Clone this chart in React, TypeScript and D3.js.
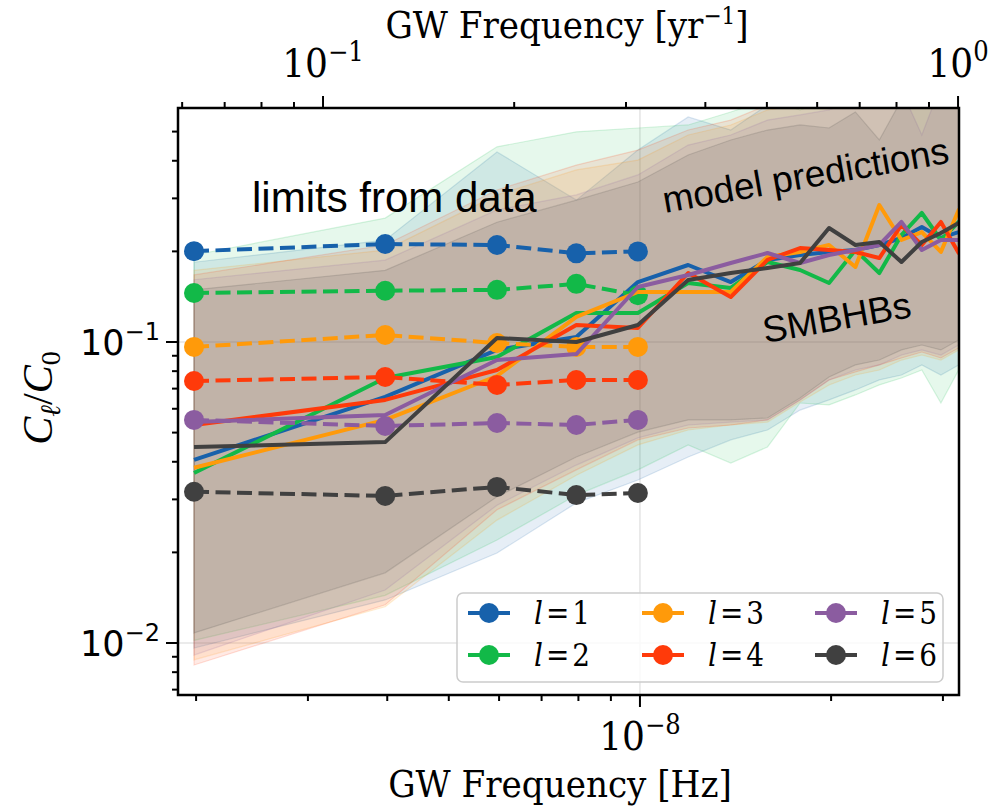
import React from "react";
import * as d3 from "d3";

// GW frequencies of the harmonics (Hz)
const freqs = [
  1.985e-9, 3.97e-9, 5.955e-9, 7.94e-9, 9.925e-9, 1.191e-8, 1.39e-8, 1.588e-8, 1.787e-8,
  1.985e-8, 2.184e-8, 2.382e-8, 2.581e-8, 2.779e-8, 2.978e-8, 3.176e-8, 3.375e-8,
];
const limitFreqs = [1.985e-9, 3.97e-9, 5.955e-9, 7.94e-9, 9.925e-9];

const ellLabels = ["1", "2", "3", "4", "5", "6"];
const colors = ["#1761ab", "#12b948", "#ff9a0a", "#ff3a0a", "#8b5ca0", "#404040"];

// limits from data (dashed)
const limitL1 = [0.2003, 0.2116, 0.21, 0.197, 0.2];
const limitL2 = [0.1455, 0.148, 0.149, 0.156, 0.143];
const limitL3 = [0.0963, 0.1055, 0.0992, 0.0963, 0.0963];
const limitL4 = [0.0742, 0.0765, 0.072, 0.0748, 0.0748];
const limitL5 = [0.0551, 0.0526, 0.0538, 0.053, 0.0551];
const limitL6 = [0.0318, 0.0308, 0.033, 0.031, 0.0315];

// model medians (solid)
const medianL1 = [0.0406, 0.0657, 0.0941, 0.1039, 0.1582, 0.1802, 0.1582, 0.1873, 0.1945, 0.1991, 0.2021, 0.21, 0.2216, 0.241, 0.2216, 0.2319, 0.2447];
const medianL2 = [0.0367, 0.0759, 0.0892, 0.1248, 0.1248, 0.157, 0.1512, 0.1844, 0.1734, 0.157, 0.2021, 0.1695, 0.2267, 0.2683, 0.2182, 0.2505, 0.2642];
const medianL3 = [0.0382, 0.0551, 0.0771, 0.1211, 0.1466, 0.1466, 0.1466, 0.1916, 0.1991, 0.21, 0.1775, 0.2851, 0.2182, 0.2319, 0.1991, 0.2746, 0.2965];
const medianL4 = [0.053, 0.0642, 0.0807, 0.1139, 0.1113, 0.1695, 0.1411, 0.1873, 0.2052, 0.2021, 0.1991, 0.1901, 0.2447, 0.21, 0.2505, 0.1975, 0.2267];
const medianL5 = [0.0542, 0.0572, 0.0871, 0.0912, 0.1523, 0.1669, 0.183, 0.1975, 0.183, 0.1945, 0.2021, 0.21, 0.2505, 0.2021, 0.2182, 0.2182, 0.2149];
const medianL6 = [0.0448, 0.0465, 0.1031, 0.1, 0.1139, 0.1607, 0.1695, 0.1761, 0.183, 0.2391, 0.21, 0.2149, 0.1844, 0.2149, 0.2302, 0.2485, 0.2642];

// model spread, upper edge
const upperL1 = [0.184, 0.218, 0.428, 0.296, 0.434, 0.559, 0.506, 0.613, 0.637, 0.662, 0.662, 0.687, 0.714, 0.714, 0.742, 0.742, 0.742];
const upperL2 = [0.1945, 0.258, 0.445, 0.499, 0.514, 0.526, 0.581, 0.637, 0.59, 0.637, 0.662, 0.662, 0.687, 0.714, 0.742, 0.742, 0.771];
const upperL3 = [0.173, 0.202, 0.308, 0.373, 0.402, 0.487, 0.526, 0.59, 0.613, 0.637, 0.662, 0.687, 0.714, 0.714, 0.742, 0.742, 0.771];
const upperL4 = [0.167, 0.21, 0.32, 0.387, 0.434, 0.506, 0.546, 0.613, 0.637, 0.662, 0.662, 0.687, 0.687, 0.714, 0.714, 0.742, 0.742];
const upperL5 = [0.161, 0.187, 0.2746, 0.308, 0.359, 0.451, 0.487, 0.546, 0.568, 0.59, 0.637, 0.662, 0.687, 0.487, 0.714, 0.714, 0.742];
const upperL6 = [0.149, 0.173, 0.25, 0.296, 0.34, 0.418, 0.469, 0.506, 0.526, 0.514, 0.581, 0.469, 0.637, 0.662, 0.687, 0.687, 0.714];

// model spread, lower edge
const lowerL1 = [0.00962, 0.0139, 0.0199, 0.0292, 0.0348, 0.0415, 0.0473, 0.051, 0.0594, 0.0642, 0.0693, 0.0748, 0.0777, 0.0839, 0.0777, 0.0839, 0.0871];
const lowerL2 = [0.0102, 0.0144, 0.022, 0.031, 0.0376, 0.0455, 0.0396, 0.0448, 0.0627, 0.0618, 0.0667, 0.072, 0.0759, 0.0807, 0.0627, 0.0807, 0.0858];
const lowerL3 = [0.00879, 0.0132, 0.0256, 0.0361, 0.0455, 0.051, 0.053, 0.0542, 0.0632, 0.072, 0.0777, 0.0807, 0.0871, 0.0905, 0.0871, 0.0941, 0.0977];
const lowerL4 = [0.00845, 0.0134, 0.0277, 0.0376, 0.0473, 0.0518, 0.053, 0.0551, 0.0642, 0.0748, 0.0795, 0.0839, 0.0885, 0.0926, 0.0885, 0.0955, 0.1];
const lowerL5 = [0.00912, 0.015, 0.0287, 0.039, 0.048, 0.053, 0.0542, 0.0551, 0.0642, 0.0748, 0.0807, 0.0839, 0.0905, 0.0941, 0.0905, 0.0977, 0.1015];
const lowerL6 = [0.0108, 0.0171, 0.0306, 0.0415, 0.0502, 0.0551, 0.0551, 0.0559, 0.0652, 0.0765, 0.0839, 0.0871, 0.0941, 0.0977, 0.0941, 0.1015, 0.1055];

const series = [
  { ell: ellLabels[0], color: colors[0], median: medianL1, upper: upperL1, lower: lowerL1, limit: limitL1 },
  { ell: ellLabels[1], color: colors[1], median: medianL2, upper: upperL2, lower: lowerL2, limit: limitL2 },
  { ell: ellLabels[2], color: colors[2], median: medianL3, upper: upperL3, lower: lowerL3, limit: limitL3 },
  { ell: ellLabels[3], color: colors[3], median: medianL4, upper: upperL4, lower: lowerL4, limit: limitL4 },
  { ell: ellLabels[4], color: colors[4], median: medianL5, upper: upperL5, lower: lowerL5, limit: limitL5 },
  { ell: ellLabels[5], color: colors[5], median: medianL6, upper: upperL6, lower: lowerL6, limit: limitL6 },
];

const HZ_PER_INV_YR = 3.169e-8;

const serif = "'DejaVu Serif Condensed', 'Liberation Serif', serif";
const sans = "'Liberation Sans', Arial, sans-serif";

const App = () => {
  const W = 1006;
  const H = 810;
  const left = 178;
  const right = 959;
  const top = 108;
  const bottom = 695;

  const x = d3.scaleLog().domain([1.873e-9, 3.18e-8]).range([left, right]);
  const xTop = d3
    .scaleLog()
    .domain([1.873e-9 / HZ_PER_INV_YR, 3.18e-8 / HZ_PER_INV_YR])
    .range([left, right]);
  const y = d3.scaleLog().domain([0.006718, 0.5989]).range([bottom, top]);

  const isMajor = (t) => Math.abs(Math.log10(t) - Math.round(Math.log10(t))) < 1e-6;

  const area = (s) =>
    d3
      .area()
      .x((_, i) => x(freqs[i]))
      .y0((_, i) => y(s.lower[i]))
      .y1((_, i) => y(s.upper[i]))(freqs);

  const medianLine = (s) =>
    d3
      .line()
      .x((_, i) => x(freqs[i]))
      .y((d) => y(d))(s.median);

  const limitLine = (s) =>
    d3
      .line()
      .x((_, i) => x(limitFreqs[i]))
      .y((d) => y(d))(s.limit);

  const exp = (t) => Math.round(Math.log10(t));
  const supLabel = (e) => (e < 0 ? "\u2212" + Math.abs(e) : String(e));

  // legend layout
  const legCols = [468, 642, 815];
  const legRows = [613, 655];

  return (
    <svg
      width={W}
      height={H}
      style={{ position: "absolute", left: 0, top: 0, background: "#fff" }}
    >
      <defs>
        <clipPath id="plotClip">
          <rect x={left} y={top} width={right - left} height={bottom - top} />
        </clipPath>
      </defs>

      {/* grid */}
      <g stroke="#e4e4e4" strokeWidth={1.5}>
        {x.ticks().filter(isMajor).map((t) => (
          <line key={"gx" + t} x1={x(t)} x2={x(t)} y1={top} y2={bottom} />
        ))}
        {y.ticks().filter(isMajor).map((t) => (
          <line key={"gy" + t} x1={left} x2={right} y1={y(t)} y2={y(t)} />
        ))}
      </g>

      {/* bands */}
      <g clipPath="url(#plotClip)">
        {series.map((s) => (
          <path
            key={"band" + s.ell}
            d={area(s)}
            fill={s.color}
            fillOpacity={0.105}
            stroke={s.color}
            strokeOpacity={0.16}
            strokeWidth={1.2}
          />
        ))}
      </g>

      {/* lines */}
      <g clipPath="url(#plotClip)" fill="none" strokeLinejoin="round">
        {series.map((s) => (
          <g key={"lines" + s.ell}>
            <path d={medianLine(s)} stroke={s.color} strokeWidth={4} />
            <path d={limitLine(s)} stroke={s.color} strokeWidth={4} strokeDasharray="15 6.5" />
            {s.limit.map((v, i) => (
              <circle key={i} cx={x(limitFreqs[i])} cy={y(v)} r={10} fill={s.color} />
            ))}
          </g>
        ))}
      </g>

      {/* annotations */}
      <text x={252} y={212} fontFamily={sans} fontSize={42} fill="#000">
        limits from data
      </text>
      <text transform="translate(665,213) rotate(-10)" fontFamily={sans} fontSize={37} fill="#000">
        model predictions
      </text>
      <text transform="translate(765,343) rotate(-10)" fontFamily={sans} fontSize={37} fill="#000">
        SMBHBs
      </text>

      {/* legend */}
      <rect
        x={457}
        y={593}
        width={486}
        height={89}
        rx={6}
        fill="#fff"
        fillOpacity={0.8}
        stroke="#cccccc"
        strokeWidth={1.5}
      />
      {series.map((s, i) => {
        const cx = legCols[Math.floor(i / 2)];
        const cy = legRows[i % 2];
        return (
          <g key={"leg" + s.ell}>
            <line x1={cx} x2={cx + 42} y1={cy} y2={cy} stroke={s.color} strokeWidth={4} />
            <circle cx={cx + 21} cy={cy} r={10} fill={s.color} />
            <text x={cx + 66} y={cy + 11} fontFamily={serif} fontSize={31} fill="#000">
              <tspan fontStyle="italic">l</tspan>
              <tspan dx={3}>=</tspan>
              <tspan dx={3}>{s.ell}</tspan>
            </text>
          </g>
        );
      })}

      {/* spines */}
      <rect
        x={left}
        y={top}
        width={right - left}
        height={bottom - top}
        fill="none"
        stroke="#000"
        strokeWidth={2.5}
      />

      {/* ticks */}
      <g stroke="#000" strokeWidth={2}>
        {x.ticks().map((t) => (
          <line key={"bx" + t} x1={x(t)} x2={x(t)} y1={bottom} y2={bottom + (isMajor(t) ? 12 : 6)} />
        ))}
        {xTop.ticks().map((t) => (
          <line key={"tx" + t} x1={xTop(t)} x2={xTop(t)} y1={top} y2={top - (isMajor(t) ? 12 : 6)} />
        ))}
        {y.ticks().map((t) => (
          <line key={"ly" + t} x1={left} x2={left - (isMajor(t) ? 12 : 6)} y1={y(t)} y2={y(t)} />
        ))}
      </g>

      {/* tick labels */}
      {x.ticks().filter(isMajor).map((t) => (
        <text key={"bxl" + t} x={x(t)} y={750} textAnchor="middle" fontFamily={serif} fontSize={40}>
          <tspan>10</tspan>
          <tspan dy={-16} fontSize={27}>{supLabel(exp(t))}</tspan>
        </text>
      ))}
      {xTop.ticks().filter(isMajor).map((t) => (
        <text key={"txl" + t} x={xTop(t)} y={77} textAnchor="middle" fontFamily={serif} fontSize={40}>
          <tspan>10</tspan>
          <tspan dy={-16} fontSize={27}>{supLabel(exp(t))}</tspan>
        </text>
      ))}
      {y.ticks().filter(isMajor).map((t) => (
        <text key={"lyl" + t} x={160} y={y(t) + 13} textAnchor="end" fontFamily="'DejaVu Sans', sans-serif" fontSize={35}>
          <tspan>10</tspan>
          <tspan dy={-15} fontSize={24}>{supLabel(exp(t))}</tspan>
        </text>
      ))}

      {/* axis titles */}
      <text x={560} y={797} textAnchor="middle" fontFamily={serif} fontSize={38}>
        GW Frequency [Hz]
      </text>
      <text x={567} y={38} textAnchor="middle" fontFamily={serif} fontSize={38}>
        <tspan>GW Frequency [yr</tspan>
        <tspan dy={-14} fontSize={24}>{"\u22121"}</tspan>
        <tspan dy={14}>]</tspan>
      </text>
      <text
        transform="translate(52,398) rotate(-90)"
        textAnchor="middle"
        fontFamily="'Liberation Serif', serif"
        fontSize={42}
      >
        <tspan fontStyle="italic">C</tspan>
        <tspan dy={8} fontSize={28} fontStyle="italic">ℓ</tspan>
        <tspan dy={-8}>/</tspan>
        <tspan fontStyle="italic">C</tspan>
        <tspan dy={8} fontSize={28}>0</tspan>
      </text>
    </svg>
  );
};

export default App;
